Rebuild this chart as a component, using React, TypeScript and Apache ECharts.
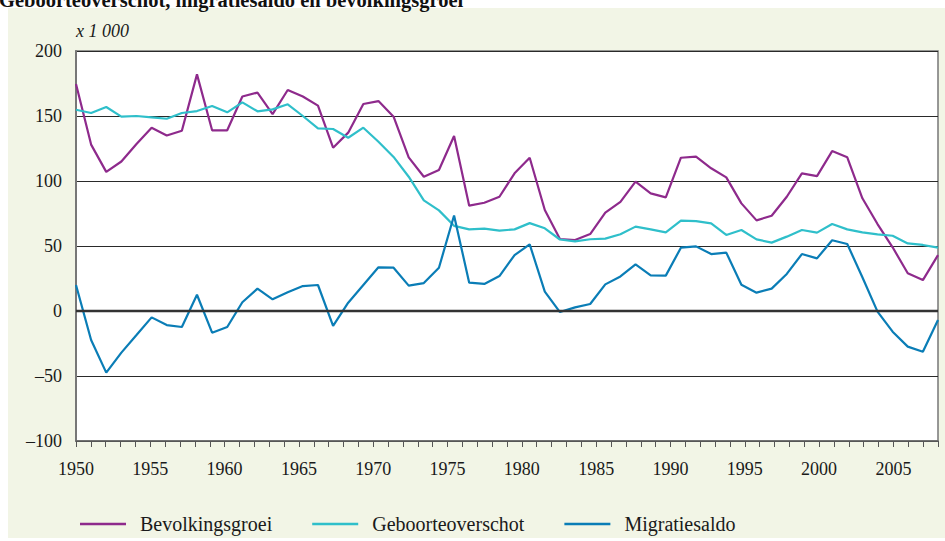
import React, { useEffect, useRef } from "react";
import * as echarts from "echarts";

const years = [
  "1950", "1951", "1952", "1953", "1954", "1955", "1956", "1957", "1958", "1959",
  "1960", "1961", "1962", "1963", "1964", "1965", "1966", "1967", "1968", "1969",
  "1970", "1971", "1972", "1973", "1974", "1975", "1976", "1977", "1978", "1979",
  "1980", "1981", "1982", "1983", "1984", "1985", "1986", "1987", "1988", "1989",
  "1990", "1991", "1992", "1993", "1994", "1995", "1996", "1997", "1998", "1999",
  "2000", "2001", "2002", "2003", "2004", "2005", "2006", "2007",
];

const bevolkingsgroei = [
  174.6, 128, 107, 115, 128.5, 141, 135, 138.7, 182, 139,
  139, 165, 168, 151.5, 170, 165, 158, 125.6, 137.2, 159.2,
  161.5, 149.5, 118.2, 103.3, 108.5, 134.6, 81, 83.3, 87.9, 105.9,
  117.9, 77.7, 55.4, 54.6, 59.2, 75.6, 84, 99.5, 90.5, 87.4,
  117.9, 118.7, 109.8, 102.8, 82.8, 69.7, 73.3, 87.9, 105.9, 103.8,
  123, 118.2, 86.7, 66.9, 49, 29, 23.8, 43,
];

const geboorteoverschot = [
  154.8, 152.3, 156.9, 149.5, 150, 149, 147.9, 152.3, 153.8, 157.7,
  152.8, 160.5, 153.6, 155.1, 159, 150, 140.5, 140, 133.3, 141,
  130.2, 118.5, 103.3, 85.1, 77.4, 65.5, 62.8, 63.4, 61.8, 62.8,
  67.6, 63.6, 55, 53.6, 55.2, 55.7, 59, 64.9, 62.8, 60.5,
  69.5, 69.2, 67.4, 58.5, 62.3, 55.1, 52.6, 57.2, 62.3, 60.3,
  66.9, 62.8, 60.5, 59, 57.9, 52, 50.8, 48.7,
];

const migratiesaldo = [
  20, -22.3, -47.4, -32, -18.5, -4.9, -10.8, -12.3, 12.5, -16.7,
  -12.3, 6.7, 17.2, 9, 14.4, 19.2, 20, -11.5, 6.4, 20,
  33.6, 33.3, 19.5, 21.5, 33.3, 73.5, 21.8, 20.8, 26.9, 43,
  51.3, 14.9, -0.8, 2.8, 5.4, 20.5, 26.6, 35.9, 27.4, 27.2,
  48.7, 49.7, 43.8, 44.9, 20.2, 14.1, 17.2, 28.5, 43.8, 40.5,
  54.4, 51.5, 26, -0.5, -15.9, -27.4, -31.3, -6.9,
];

const seriesNames = ["Bevolkingsgroei", "Geboorteoverschot", "Migratiesaldo"];
const seriesColors = ["#8E2A8C", "#2FBFCA", "#0A7DB6"];
const titleText = "Geboorteoverschot, migratiesaldo en bevolkingsgroei";
const unitText = "x 1 000";
const axisYearMin = 1950;
const axisYearMax = 2008;

const FONT = '"Liberation Serif", "Times New Roman", serif';

export default function App() {
  const ref = useRef<HTMLDivElement>(null);

  useEffect(() => {
    if (!ref.current) return;
    const chart = echarts.init(ref.current, undefined, { renderer: "svg" });
    const dataSets = [bevolkingsgroei, geboorteoverschot, migratiesaldo];
    const option: any = {
      animation: false,
      backgroundColor: "transparent",
      graphic: [
        {
          type: "text",
          x: -1,
          y: 0,
          style: {
            text: titleText,
            font: `bold 20.5px ${FONT}`,
            fill: "#111",
            verticalAlign: "middle",
          },
        },
        {
          type: "text",
          x: 76,
          y: 31,
          style: {
            text: unitText,
            font: `italic 18px ${FONT}`,
            fill: "#1a1a1a",
            verticalAlign: "middle",
          },
        },
      ],
      grid: {
        left: 76,
        right: 7,
        top: 51,
        bottom: 100,
        show: true,
        backgroundColor: "#ffffff",
        borderColor: "#777777",
        borderWidth: 1.5,
      },
      legend: {
        left: 75,
        top: 509,
        itemWidth: 46,
        itemHeight: 2.5,
        itemGap: 40,
        icon: "rect",
        textStyle: {
          fontFamily: FONT,
          fontSize: 20,
          color: "#1a1a1a",
          padding: [0, 0, 0, 9],
        },
        data: seriesNames,
      },
      xAxis: [
        {
          type: "category",
          data: years,
          boundaryGap: false,
          position: "top",
          show: false,
        },
        {
          type: "value",
          min: axisYearMin,
          max: axisYearMax,
          interval: 1,
          position: "bottom",
          axisLine: { show: true, lineStyle: { color: "#666", width: 1.5 } },
          axisTick: { show: true, length: 6, lineStyle: { color: "#555", width: 1 } },
          splitLine: { show: false },
          axisLabel: {
            margin: 19,
            fontFamily: FONT,
            fontSize: 18,
            color: "#1a1a1a",
            formatter: (v: number) => (v % 5 === 0 ? String(v) : ""),
          },
        },
      ],
      yAxis: {
        type: "value",
        min: -100,
        max: 200,
        interval: 50,
        axisLine: { show: true, lineStyle: { color: "#777", width: 2 } },
        axisTick: { show: false },
        splitLine: { show: true, lineStyle: { color: "#2a2a2a", width: 1.2 } },
        axisLabel: {
          margin: 14,
          fontFamily: FONT,
          fontSize: 18,
          color: "#1a1a1a",
          formatter: (v: number) => String(v).replace("-", "\u2013"),
        },
      },
      series: seriesNames.map((name, i) => ({
        name,
        type: "line",
        xAxisIndex: 0,
        data: dataSets[i],
        symbol: "none",
        showSymbol: false,
        color: seriesColors[i],
        lineStyle: { color: seriesColors[i], width: 2.2 },
        ...(i === 0
          ? {
              markLine: {
                silent: true,
                symbol: "none",
                label: { show: false },
                lineStyle: { color: "#333", width: 2.4, type: "solid" },
                data: [{ yAxis: 0 }],
              },
            }
          : {}),
      })),
    };
    chart.setOption(option);
    return () => chart.dispose();
  }, []);

  return (
    <div
      style={{
        position: "fixed",
        left: 0,
        top: 0,
        width: 945,
        height: 541,
        background: "#ffffff",
        overflow: "hidden",
      }}
    >
      <div
        style={{
          position: "absolute",
          left: 8,
          top: 8,
          width: 937,
          height: 530,
          background: "#F2F5E6",
        }}
      />
      <div
        ref={ref}
        style={{ position: "absolute", left: 0, top: 0, width: 945, height: 541 }}
      />
    </div>
  );
}
